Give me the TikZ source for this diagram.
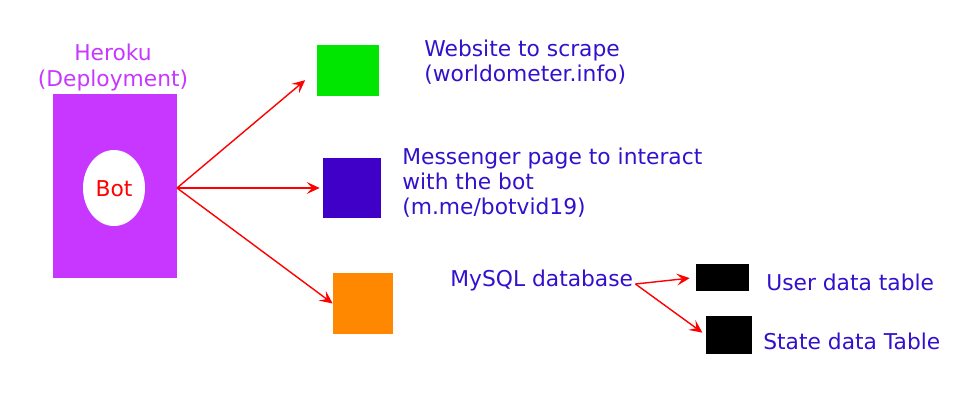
\documentclass[tikz,border=0pt]{standalone}
\usepackage{fontspec}
\setmainfont{DejaVu Sans}
\usetikzlibrary{arrows.meta,shapes.geometric}
\definecolor{herokupurple}{HTML}{C837FF}
\definecolor{labelblue}{HTML}{3311CC}
\definecolor{scrapegreen}{HTML}{00E600}
\definecolor{msgblue}{HTML}{4000C8}
\definecolor{dborange}{HTML}{FF8800}

\begin{document}
\begin{tikzpicture}[x=0.02cm,y=-0.02cm,font=\fontsize{12.4}{14.4}\selectfont,
    box/.style={draw=none,inner sep=0pt},
    label/.style={text=labelblue,anchor=west,align=left,inner sep=0pt},
    link/.style={red,line width=0.8pt,-{Stealth[length=2.6mm,width=2.4mm,inset=1.1mm]}}]
    \useasboundingbox (0,0) rectangle (968,419);
    % heroku and the bot
    \node[box,fill=herokupurple,minimum width=2.48cm,minimum height=3.68cm] (heroku) at (115,186) {};
    \node[text=herokupurple,align=center,inner sep=0pt] (herokutxt) at (113,67.5) {Heroku\\(Deployment)};
    \node[ellipse,fill=white,inner sep=0pt,minimum width=1.24cm,minimum height=1.52cm] (bot) at (114,188) {};
    \node[text=red,inner sep=0pt] (bottxt) at (114,189) {Bot};
    \coordinate (hub) at (177,188);
    % targets
    \node[box,fill=scrapegreen,minimum width=1.24cm,minimum height=1.02cm] (web) at (348,70.5) {};
    \node[box,fill=msgblue,minimum width=1.16cm,minimum height=1.2cm] (msg) at (352,188) {};
    \node[box,fill=dborange,minimum width=1.2cm,minimum height=1.22cm] (db) at (363,303.5) {};
    \node[label] (webtxt) at (424,62.5) {Website to scrape\\(worldometer.info)};
    \node[label] (msgtxt) at (402,182.5) {Messenger page to interact\\with the bot\\(m.me/botvid19)};
    \node[label] (dbtxt) at (450,280) {MySQL database};
    \coordinate (dbout) at ([shift={(0.04cm,-0.08cm)}]dbtxt.east);
    % tables
    \node[box,fill=black,minimum width=1.06cm,minimum height=0.54cm] (user) at (722.5,277.5) {};
    \node[box,fill=black,minimum width=0.92cm,minimum height=0.76cm] (state) at (729,335) {};
    \node[label] (usertxt) at (766,282) {User data table};
    \node[label] (statetxt) at (763,341) {State data Table};
    % arrows
    \draw[link,shorten >=0.3cm] (hub) -- (web.west);
    \draw[link,shorten >=0.06cm] (hub) -- (msg.west);
    \draw[link] (hub) -- (db.west);
    \draw[link,shorten >=0.12cm] (dbout) -- (user.west);
    \draw[link,shorten >=0.08cm] (dbout) -- (state.west);
\end{tikzpicture}
\end{document}
